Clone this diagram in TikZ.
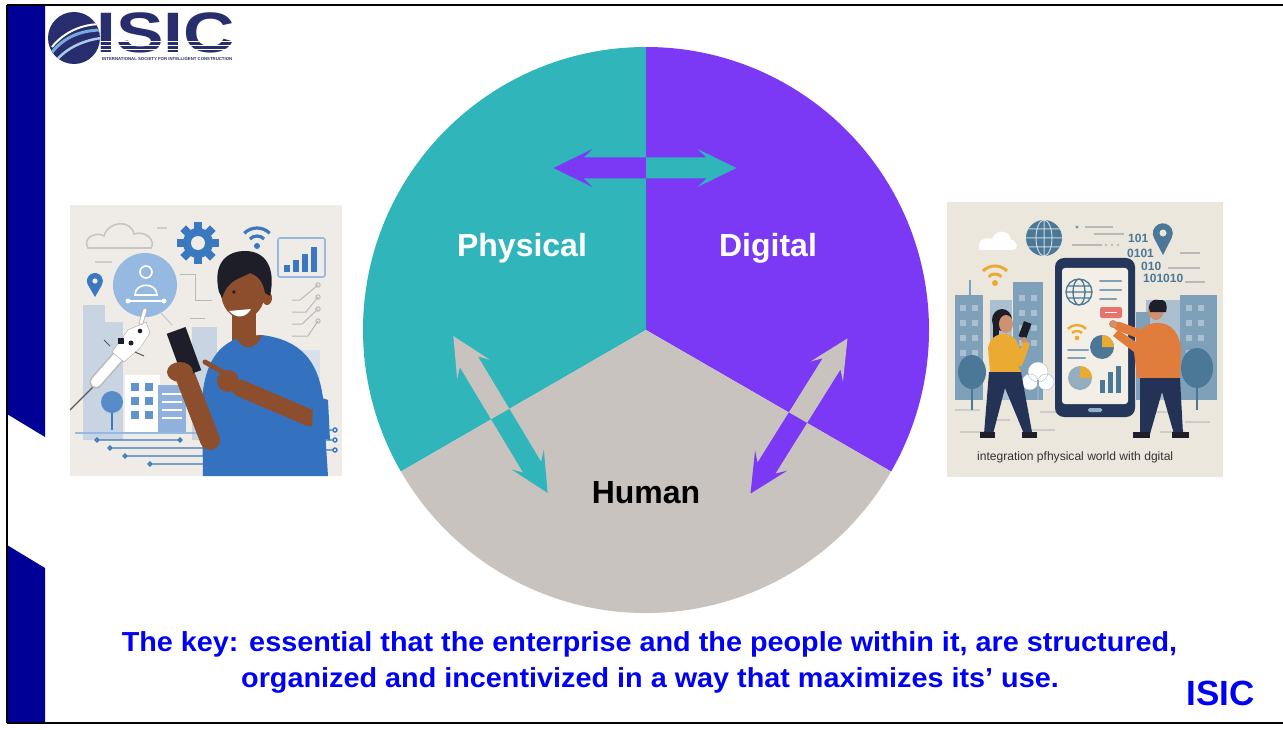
\documentclass[tikz,border=0pt]{standalone}
\usepackage{fontspec}
\usepackage{graphicx}
\setmainfont{Liberation Sans}
\definecolor{barnavy}{RGB}{0,0,150}
\definecolor{physteal}{RGB}{47,181,186}
\definecolor{digipurple}{RGB}{123,56,245}
\definecolor{humangray}{RGB}{201,195,192}
\definecolor{keyblue}{RGB}{0,0,245}
\definecolor{logonavy}{RGB}{40,45,110}
\definecolor{logosky}{RGB}{120,170,220}
% left illustration palette
\definecolor{bgL}{RGB}{239,236,231}
\definecolor{iconblue}{RGB}{58,120,192}
\definecolor{paleblue}{RGB}{150,185,225}
\definecolor{cityblue}{RGB}{200,212,226}
\definecolor{skin}{RGB}{140,78,45}
\definecolor{hair}{RGB}{30,30,40}
\definecolor{shirt}{RGB}{52,114,192}
% right illustration palette
\definecolor{bgR}{RGB}{236,231,220}
\definecolor{slate}{RGB}{126,160,184}
\definecolor{paleslate}{RGB}{170,192,208}
\definecolor{steel}{RGB}{74,120,150}
\definecolor{phonenavy}{RGB}{36,55,90}
\definecolor{screen}{RGB}{243,239,230}
\definecolor{mustard}{RGB}{235,170,50}
\definecolor{coral}{RGB}{232,115,108}
\definecolor{orangeshirt}{RGB}{225,125,60}
\definecolor{skinR}{RGB}{205,145,112}
\definecolor{pants}{RGB}{35,50,85}
\begin{document}
\begin{tikzpicture}[x=1pt,y=-1pt,
  seclabel/.style={font=\fontsize{32}{38}\selectfont\bfseries, inner sep=0pt, anchor=base},
  keyline/.style={font=\fontsize{27.5}{33}\selectfont\bfseries, text=keyblue, inner sep=0pt, anchor=base},
  frameline/.style={line width=2.2pt, black},
  thinblue/.style={iconblue, line width=1.4pt},
  circuit/.style={gray!55, line width=1pt},
  dashbar/.style={steel!70, line width=2pt, line cap=round}]
\useasboundingbox (0,0) rectangle (1283,730);
\fill[white] (0,0) rectangle (1283,730);

% ---------- frame and side bar ----------
\fill[barnavy] (7,5) -- (45,5) -- (45,437) -- (7,414) -- cycle;
\fill[barnavy] (7,545) -- (45,568) -- (45,723) -- (7,723) -- cycle;
\draw[frameline] (7,5) -- (1283,5);
\draw[frameline] (7,723) -- (1283,723);
\draw[frameline] (7,5) -- (7,723);

% ---------- logo ----------
\fill[logonavy] (74,38) circle (26);
\begin{scope}
  \clip (74,38) circle (26);
  \draw[logosky, line width=3pt] (50,55) .. controls (62,38) and (80,30) .. (102,30);
  \draw[white, line width=2pt] (52,47) .. controls (64,32) and (82,24) .. (102,24);
  \draw[logosky!60, line width=2.5pt] (55,62) .. controls (66,48) and (84,40) .. (102,38);
\end{scope}
\node[anchor=base west, inner sep=0pt, text=logonavy] (logoword) at (96,53)
  {\scalebox{1.25}[1]{\fontsize{57}{57}\selectfont\bfseries\smash{ISIC}}};
\foreach \yy in {41.5,45.5,49.5}
  \draw[white, line width=1.1pt] (100,\yy) -- (236,\yy);
\node[anchor=base west, inner sep=0pt, text=logonavy] (logosub) at (102,61)
  {\resizebox{130pt}{!}{\fontsize{5}{5}\selectfont\bfseries INTERNATIONAL SOCIETY FOR INTELLIGENT CONSTRUCTION}};

% ---------- three-part circle ----------
\coordinate (C) at (646,330);
\def\physsec{(646,330) -- ++(-90:283) arc[start angle=-90, end angle=-210, radius=283] -- cycle}
\def\digisec{(646,330) -- ++(-90:283) arc[start angle=-90, end angle=30, radius=283] -- cycle}
\def\humsec{(646,330) -- ++(30:283) arc[start angle=30, end angle=150, radius=283] -- cycle}
\def\dblarrowpath{(-91.5,0) -- (-52.5,-19) -- (-61.5,-10.5) -- (61.5,-10.5) -- (52.5,-19) -- (91.5,0)
  -- (52.5,19) -- (61.5,10.5) -- (-61.5,10.5) -- (-52.5,19) -- cycle}
\fill[physteal] \physsec;
\fill[digipurple] \digisec;
\fill[humangray] \humsec;

% two-way arrows, each part coloured after the sector it points into
\begin{scope}
  \clip \physsec;
  \fill[digipurple, shift={(645,168)}] \dblarrowpath;
  \fill[humangray, shift={(500.5,414.5)}, rotate=-59] \dblarrowpath;
\end{scope}
\begin{scope}
  \clip \digisec;
  \fill[physteal, shift={(645,168)}] \dblarrowpath;
  \fill[humangray, shift={(799,416)}, rotate=58] \dblarrowpath;
\end{scope}
\begin{scope}
  \clip \humsec;
  \fill[physteal, shift={(500.5,414.5)}, rotate=-59] \dblarrowpath;
  \fill[digipurple, shift={(799,416)}, rotate=58] \dblarrowpath;
\end{scope}

\node[seclabel, text=white] (phys) at (522,257) {Physical};
\node[seclabel, text=white] (digi) at (768,257) {Digital};
\node[seclabel, text=black] (hum) at (646,503) {Human};

% ---------- bottom statement ----------
\node[keyline] (key1) at (649.5,651)
  {\scalebox{1.047}[1]{The key: essential that the enterprise and the people within it, are structured,}};
\node[keyline] (key2) at (650,687)
  {\scalebox{1.047}[1]{organized and incentivized in a way that maximizes its’ use.}};
\node[anchor=base, inner sep=0pt, text=keyblue, font=\fontsize{35}{40}\selectfont\bfseries] (isic) at (1220.5,705) {ISIC};

% ---------- left illustration: person with phone ----------
\begin{scope}
\clip (70,205) rectangle (342,476);
\fill[bgL] (70,205) rectangle (342,476);
% city silhouettes
\fill[cityblue] (83,305) rectangle (105,440);
\fill[cityblue] (105,322) rectangle (123,440);
\fill[cityblue] (192,327) rectangle (217,440);
\fill[cityblue!70] (285,350) rectangle (320,440);
% cloud
\draw[gray!45, line width=1.6pt] (88,248) .. controls (82,238) and (96,231) .. (104,236)
  .. controls (108,221) and (131,219) .. (134,234) .. controls (146,230) and (156,241) .. (151,248) -- cycle;
\draw[gray!40, line width=1.5pt] (157,228) -- (167,228);
\draw[gray!40, line width=1.5pt] (95,262) -- (112,262);
% gear
\foreach \a in {0,45,...,315}
  \fill[iconblue, shift={(198,243)}, rotate=\a] (-4,-21) rectangle (4,-13);
\fill[iconblue] (198,243) circle (15);
\fill[bgL] (198,243) circle (7);
% wifi
\fill[iconblue] (257,246) circle (3);
\draw[iconblue, line width=3.2pt] (257,246) ++(-135:10) arc[start angle=-135, end angle=-45, radius=10];
\draw[iconblue, line width=3.2pt] (257,246) ++(-135:18) arc[start angle=-135, end angle=-45, radius=18];
% bar chart card
\draw[paleblue, line width=1.6pt, rounded corners=2pt] (278,238) rectangle (325,277);
\fill[iconblue] (284,265) rectangle (290,272);
\fill[iconblue] (293,260) rectangle (299,272);
\fill[iconblue] (302,254) rectangle (308,272);
\fill[iconblue] (311,247) rectangle (317,272);
% location pin
\fill[iconblue] (95,297) -- (88,285) arc[start angle=150, end angle=390, radius=8] -- cycle;
\fill[bgL] (95,281) circle (2.6);
% profile bubble
\fill[paleblue] (145,285) circle (32);
\draw[white, line width=1.6pt] (146,272) circle (6);
\draw[white, line width=1.6pt] (135,295) .. controls (135,282) and (157,282) .. (157,295) -- cycle;
\draw[white, line width=1.4pt] (128,301) -- (164,301);
\fill[white] (128,301) circle (2.5);
\fill[white] (164,301) circle (2.5);
\draw[gray!50, line width=0.8pt] (160,312) -- (172,325);
% circuit traces (right)
\foreach \dy/\dx in {0/0,12/6,24/2,36/8}
  \draw[circuit] (292,300+\dy) -- (300+\dx,300+\dy) -- (318,285+\dy) (318,285+\dy) circle (2.2);
\draw[circuit] (180,275) -- (195,275) -- (195,300) -- (212,300);
\draw[circuit] (190,318) -- (205,318);
% buildings and tree
\fill[white] (125,375) rectangle (160,432);
\fill[shirt!55] (158,385) rectangle (186,432);
\foreach \r in {0,1,2}
  \foreach \c in {0,1}
    \fill[iconblue!80] (131+\c*14,383+\r*14) rectangle (139+\c*14,391+\r*14);
\foreach \r in {0,1,2,3}
  \draw[white, line width=1.2pt] (162,394+\r*8) -- (182,394+\r*8);
\draw[iconblue, line width=2pt] (112,402) -- (112,430);
\fill[iconblue!85] (112,402) circle (11);
\draw[paleblue, line width=1.2pt] (75,433) -- (240,433);
% circuit traces (bottom)
\foreach \yy/\xa/\xb in {440/97/180,448/110/205,456/125/235,464/150/245}
  \draw[thinblue] (\xa,\yy) -- (\xb,\yy) (\xa,\yy) circle (1.8) (\xb,\yy) circle (1.8);
\foreach \yy in {430,440,450}
  \draw[thinblue] (318,\yy) -- (333,\yy) (335,\yy) circle (2);
% robot hand
\draw[gray!70!black, line width=1.2pt] (70,410) -- (100,380);
\draw[gray!55, line width=13pt, line cap=round] (96,382) -- (124,350);
\draw[white, line width=10pt, line cap=round] (96,382) -- (124,350);
\fill[white, draw=gray!70] (112,352) -- (128,330) -- (146,322) -- (150,333) -- (140,348) -- (124,362) -- cycle;
\fill[hair] (118,338) rectangle (124,344);
\fill[hair] (131,343) circle (2.5);
\fill[hair] (140,331) circle (2.3);
\draw[gray!70!black, line width=1pt] (110,346) -- (104,340) (135,352) -- (144,356);
\draw[gray!60, line width=4.5pt, line cap=round] (141,323) -- (145,310);
\draw[white, line width=3pt, line cap=round] (141,323) -- (145,310);
% the person
\fill[skin] (232,308) rectangle (256,345);
\fill[shirt] (203,476) -- (202,400) .. controls (205,362) and (218,346) .. (238,338) -- (262,335)
  .. controls (300,340) and (318,360) .. (323,398) -- (328,476) -- cycle;
\fill[skin] (236,337) .. controls (242,351) and (256,351) .. (262,335) -- cycle;
\fill[skin] (243,292) ellipse[x radius=22, y radius=27];
\fill[skin] (267,298) ellipse[x radius=5, y radius=7];
\fill[hair] (219,292) .. controls (212,262) and (228,251) .. (245,251) .. controls (266,251) and (276,268) .. (270,296)
  -- (265,293) .. controls (263,281) and (258,276) .. (250,273) .. controls (240,279) and (228,279) .. (222,298) -- cycle;
\fill[hair] (234,292) circle (1.9);
\fill[white] (229,311) .. controls (236,319) and (246,318) .. (251,309) -- cycle;
% arm holding the phone
\draw[skin, line width=20pt, line cap=round] (186,378) -- (210,440);
\fill[hair, rotate around={20:(184,352)}] (174,329) rectangle (194,375);
\fill[skin] (180,372) ellipse[x radius=13, y radius=10];
% pointing arm
\draw[skin, line width=17pt, line cap=round] (310,418) -- (240,388);
\fill[skin] (228,381) circle (11);
\draw[skin, line width=5pt, line cap=round] (226,374) -- (205,362);
\fill[shirt] (313,395) -- (328,400) -- (330,440) -- (312,436) -- cycle;
\end{scope}

% ---------- right illustration: people and a big phone ----------
\begin{scope}
\clip (947,202) rectangle (1223,477);
\fill[bgR] (947,202) rectangle (1223,477);
% skyline
\fill[paleslate] (990,300) rectangle (1012,400);
\fill[paleslate] (1146,300) rectangle (1180,400);
\fill[slate] (955,295) rectangle (983,400);
\draw[slate, line width=2pt] (970,295) -- (970,280);
\fill[slate] (1013,282) rectangle (1043,400);
\fill[slate] (1136,312) rectangle (1150,400);
\fill[slate] (1180,295) rectangle (1217,400);
\foreach \r in {0,1,2,3}
  {\fill[paleslate] (960,305+\r*15) rectangle (966,311+\r*15);
   \fill[paleslate] (972,305+\r*15) rectangle (978,311+\r*15);
   \fill[paleslate] (1019,295+\r*15) rectangle (1025,301+\r*15);
   \fill[paleslate] (1031,295+\r*15) rectangle (1037,301+\r*15);
   \fill[paleslate] (1186,305+\r*15) rectangle (1192,311+\r*15);
   \fill[paleslate] (1198,305+\r*15) rectangle (1204,311+\r*15);}
% ground
\foreach \xa/\yy in {955/410,985/420,1040/412,1150/412,1185/422,960/432,1030/430,1160/432}
  \draw[gray!40, line width=1.3pt] (\xa,\yy) -- (\xa+25,\yy);
% trees
\draw[steel, line width=2pt] (972,372) -- (972,410);
\fill[steel] (972,372) ellipse[x radius=14, y radius=17];
\draw[steel, line width=2pt] (1197,368) -- (1197,410);
\fill[steel] (1197,368) ellipse[x radius=16, y radius=20];
\fill[white, draw=steel!50] (1030,382) circle (8) (1046,382) circle (8) (1038,372) circle (10);
\draw[steel!60, line width=1.5pt] (1038,380) -- (1038,400);
% sky icons
\fill[white] (980,250) .. controls (975,242) and (985,236) .. (992,239) .. controls (995,229) and (1010,229) .. (1011,240)
  .. controls (1018,240) and (1019,250) .. (1013,250) -- cycle;
\fill[steel] (1044,238) circle (18);
\draw[white!70!steel, line width=1pt] (1044,238) ellipse[x radius=8, y radius=18] (1026,238) -- (1062,238)
  (1028,229) -- (1060,229) (1028,247) -- (1060,247) (1044,220) -- (1044,256);
\fill[steel] (1163,255) -- (1154,238) arc[start angle=152, end angle=388, radius=10] -- cycle;
\fill[bgR] (1163,233) circle (3.5);
\fill[steel!80] (1077,227) circle (1.6);
\draw[gray!55, line width=1.2pt] (1085,227) -- (1113,227) (1094,234) -- (1124,234) (1072,245) -- (1102,245)
  (1180,253) -- (1200,253) (1168,268) -- (1200,268) (1185,282) -- (1205,282);
\foreach \xx in {1106,1112,1118}
  \fill[gray!55] (\xx,245) circle (1.3);
\node[anchor=base west, inner sep=0pt, text=steel, font=\fontsize{12}{12}\selectfont\bfseries] (b1) at (1128,243) {101};
\node[anchor=base west, inner sep=0pt, text=steel, font=\fontsize{12}{12}\selectfont\bfseries] (b2) at (1127,258) {0101};
\node[anchor=base west, inner sep=0pt, text=steel, font=\fontsize{12}{12}\selectfont\bfseries] (b3) at (1141,271) {010};
\node[anchor=base west, inner sep=0pt, text=steel, font=\fontsize{12}{12}\selectfont\bfseries] (b4) at (1143,283) {101010};
% yellow wifi
\fill[mustard] (995,283) circle (3);
\draw[mustard, line width=3pt] (995,283) ++(-135:9) arc[start angle=-135, end angle=-45, radius=9];
\draw[mustard, line width=3pt] (995,283) ++(-135:17) arc[start angle=-135, end angle=-45, radius=17];
% big phone
\fill[phonenavy, rounded corners=9pt] (1055,258) rectangle (1135,417);
\fill[screen, rounded corners=3pt] (1062,268) rectangle (1128,404);
\fill[steel!60, rounded corners=1.5pt] (1088,408) rectangle (1102,412);
\draw[steel, line width=1.3pt] (1079,292) circle (13) (1079,292) ellipse[x radius=6, y radius=13]
  (1066,292) -- (1092,292) (1068,286) -- (1090,286) (1068,298) -- (1090,298);
\draw[dashbar] (1100,281) -- (1121,281) (1100,290) -- (1121,290) (1100,299) -- (1116,299);
\fill[coral, rounded corners=2pt] (1100,307) rectangle (1122,318);
\draw[white, line width=1.3pt] (1105,312.5) -- (1117,312.5);
\fill[mustard] (1077,338) circle (2.3);
\draw[mustard, line width=2.4pt] (1077,338) ++(-135:7) arc[start angle=-135, end angle=-45, radius=7];
\draw[mustard, line width=2.4pt] (1077,338) ++(-135:13) arc[start angle=-135, end angle=-45, radius=13];
\fill[steel] (1102,347) circle (12);
\fill[mustard] (1102,347) -- ++(-90:12) arc[start angle=-90, end angle=0, radius=12] -- cycle;
\draw[dashbar] (1068,350) -- (1088,350) (1068,358) -- (1085,358);
\fill[steel!60] (1080,378) circle (12);
\fill[mustard] (1080,378) -- ++(-90:12) arc[start angle=-90, end angle=0, radius=12] -- cycle;
\fill[steel] (1100,380) rectangle (1105,393);
\fill[steel] (1108,372) rectangle (1113,393);
\fill[steel] (1116,366) rectangle (1121,393);
% woman with phone
\fill[hair] (1002,320) ellipse[x radius=10, y radius=11];
\fill[hair] (993,320) rectangle (999,348);
\fill[skinR] (1006,324) ellipse[x radius=7, y radius=9];
\fill[mustard] (990,372) -- (988,348) .. controls (990,336) and (1000,333) .. (1006,334) .. controls (1014,335) and (1018,342) .. (1020,350)
  -- (1024,340) -- (1030,344) -- (1022,366) -- (1018,366) -- (1021,372) -- cycle;
\fill[hair, rotate around={-20:(1025,330)}] (1021,322) rectangle (1029,338);
\fill[skinR] (1024,340) circle (3);
\fill[pants] (989,372) -- (1021,372) -- (1032,432) -- (1024,434) -- (1005,388) -- (993,434) -- (984,434) -- cycle;
\fill[hair] (980,432) rectangle (995,438);
\fill[hair] (1022,432) rectangle (1037,438);
% man pointing at the phone
\fill[skinR] (1156,310) ellipse[x radius=8, y radius=10];
\fill[hair] (1159,300) .. controls (1150,298) and (1147,306) .. (1150,312) -- (1166,312) .. controls (1168,303) and (1165,299) .. (1159,300) -- cycle;
\fill[orangeshirt] (1140,378) -- (1136,342) -- (1118,330) -- (1113,336) -- (1134,352) -- (1137,378) -- cycle;
\fill[orangeshirt] (1138,378) -- (1136,338) .. controls (1140,326) and (1152,322) .. (1160,323) .. controls (1172,324) and (1180,334) .. (1181,350)
  -- (1180,378) -- cycle;
\draw[orangeshirt, line width=9pt, line cap=round] (1142,335) -- (1118,326);
\fill[skinR] (1113,324) circle (4);
\fill[pants] (1140,378) -- (1180,378) -- (1183,434) -- (1174,434) -- (1162,392) -- (1150,434) -- (1140,434) -- cycle;
\fill[hair] (1133,432) rectangle (1150,438);
\fill[hair] (1172,432) rectangle (1189,438);
\node[anchor=base west, inner sep=0pt, text=black!80] (caption) at (977,460)
  {\resizebox{196pt}{!}{\fontsize{13}{13}\selectfont integration pfhysical world with dgital}};
\end{scope}
\end{tikzpicture}
\end{document}
